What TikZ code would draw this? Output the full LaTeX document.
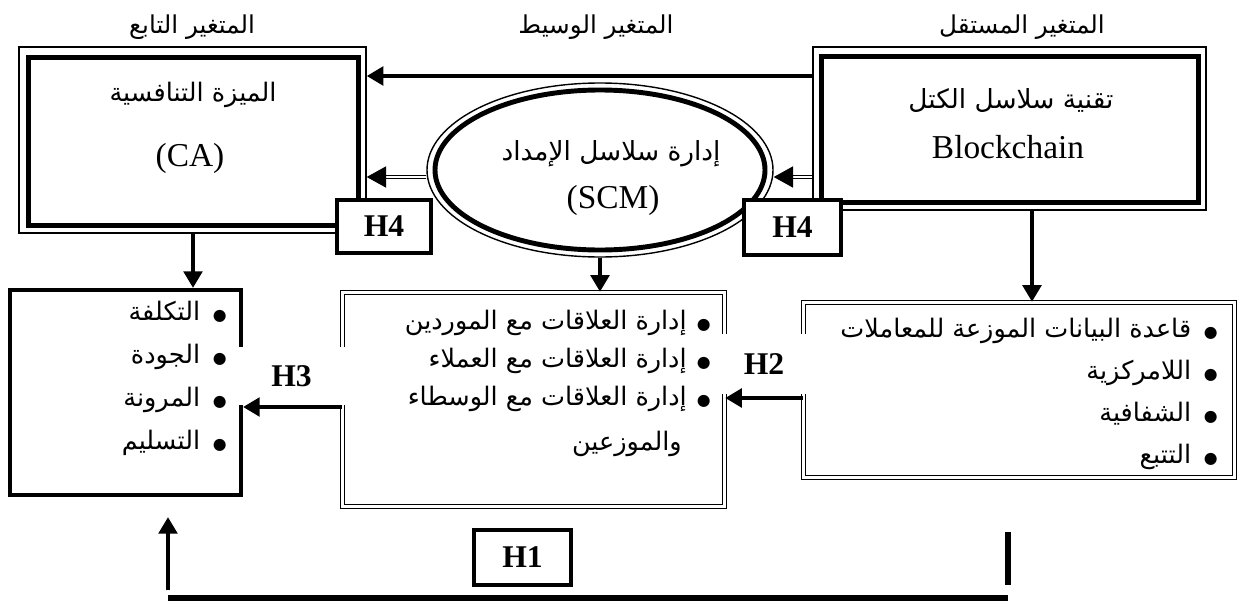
\documentclass[tikz,border=0pt]{standalone}
\usepackage{fontspec}
\setmainfont{Liberation Serif}
\newfontfamily\arabicfont[Script=Arabic]{DejaVu Sans}
\TeXXeTstate=1
\usetikzlibrary{arrows.meta,shapes.geometric}
\newcommand{\pix}{0.02cm}
\newcommand{\dotitem}{{\fontsize{9}{9}\selectfont ●}}
\tikzset{
  outerframe/.style={draw, line width=0.8pt, inner sep=0pt},
  innerframe/.style={line width=2.8pt},
  title/.style={font=\arabicfont\fontsize{14}{16}\selectfont},
  latin/.style={font=\fontsize{19}{22}\selectfont},
  hbox/.style={draw, line width=2.5pt, fill=white, inner sep=0pt,
    font=\bfseries\fontsize{18}{20}\selectfont},
  hlabel/.style={fill=white, inner sep=0pt, font=\bfseries\fontsize{18}{20}\selectfont},
  listbox/.style={draw, line width=2.3pt, inner sep=0pt},
  dlistbox/.style={draw, double, double distance=1.2pt, line width=0.8pt, inner sep=0pt},
  item/.style={font=\arabicfont\fontsize{14.5}{16}\selectfont, inner sep=0pt, anchor=base east},
  arr/.style={line width=2.6pt, -{Triangle[length=9.5pt,width=10.5pt]}},
  darr/.style={double, double distance=1.3pt, line width=0.7pt, -{Triangle[length=11pt,width=12pt]}},
  bar/.style={line width=3.4pt}
}

\begin{document}
\begin{tikzpicture}[x=0.02cm, y=0.02cm]
  \useasboundingbox (0,0) rectangle (1237,-602);
  % headings
  \node[title] (hdCA) at (192,-27) {\beginR المتغير التابع\endR};
  \node[title] (hdSCM) at (596,-27) {\beginR المتغير الوسيط\endR};
  \node[title] (hdBC) at (1022,-27) {\beginR المتغير المستقل\endR};

  % main boxes
  \node[outerframe, minimum width=347*\pix, minimum height=186*\pix] (CA) at (192.5,-140) {};
  \draw[innerframe] ([shift={(10,-11)}]CA.north west) rectangle ([shift={(-8,8)}]CA.south east);
  \node[title, font=\arabicfont\fontsize{14.5}{16}\selectfont] (caT) at (193,-95) {\beginR الميزة التنافسية\endR};
  \node[latin] (caL) at (190,-158) {(CA)};

  \node[outerframe, minimum width=393*\pix, minimum height=163*\pix] (BC) at (1009.5,-128.5) {};
  \draw[innerframe] ([shift={(9,-10)}]BC.north west) rectangle ([shift={(-8,8)}]BC.south east);
  \node[title, font=\arabicfont\fontsize{15}{16}\selectfont] (bcT) at (1011,-100) {\beginR تقنية سلاسل الكتل\endR};
  \node[latin] (bcL) at (1008,-147) {Blockchain};

  \node[outerframe, ellipse, minimum width=346*\pix, minimum height=174*\pix] (SCM) at (600,-170) {};
  \draw[innerframe] (SCM.center) ellipse [x radius=165*\pix, y radius=80*\pix];
  \node[title, font=\arabicfont\fontsize{15}{16}\selectfont] (scmT) at (611,-154) {\beginR إدارة سلاسل الإمداد\endR};
  \node[latin] (scmL) at (613,-200) {(SCM)};

  % lists
  \node[listbox, minimum width=231*\pix, minimum height=205*\pix] (CAlist) at (125.5,-392.5) {};
  \node[dlistbox, minimum width=382*\pix, minimum height=214*\pix] (SCMlist) at (533.5,-399.5) {};
  \node[dlistbox, minimum width=431*\pix, minimum height=175*\pix] (BClist) at (1019,-390) {};

  \foreach \t [count=\i] in {التكلفة, الجودة, المرونة, التسليم}
    \node[item] (ca\i) at (227,{-320-43*(\i-1)}) {\beginR\dotitem\enspace\t\endR};
  \foreach \t [count=\i] in {إدارة العلاقات مع الموردين, إدارة العلاقات مع العملاء, إدارة  العلاقات مع الوسطاء}
    \node[item] (scm\i) at (711,{-329-38*(\i-1)}) {\beginR\dotitem\hspace{0.4em}\t\endR};
  \node[item] (scm4) at (682,-450) {\beginR والموزعين\endR};
  \foreach \t [count=\i] in {قاعدة البيانات الموزعة للمعاملات, اللامركزية, الشفافية, التتبع}
    \node[item] (bc\i) at (1218,{-337-42.3*(\i-1)}) {\beginR\dotitem\enspace\t\endR};

  % hypothesis labels between the lists
  \node[hlabel, minimum width=109*\pix, minimum height=58*\pix] (H3) at (291.5,-376) {H3};
  \node[hlabel, minimum width=86*\pix, minimum height=60*\pix] (H2) at (764,-364) {H2};

  % arrows
  \draw[arr] (BC.west |- 0,-76) -- (CA.east |- 0,-76);
  \draw[darr] (BC.west |- 0,-177) -- (SCM.east |- 0,-177);
  \draw[darr] (SCM.west |- 0,-177) -- (CA.east |- 0,-177);
  \draw[arr] (CA.south -| 193,0) -- (CAlist.north -| 193,0);
  \draw[arr] (SCM.south) -- (SCM.south |- SCMlist.north);
  \draw[arr] (BC.south -| 1032,0) -- (BClist.north -| 1032,0);
  \draw[arr] (SCMlist.west |- 0,-407) -- (CAlist.east |- 0,-407);
  \draw[arr] (BClist.west |- 0,-398) -- (SCMlist.east |- 0,-398);

  \node[hbox, minimum width=94*\pix, minimum height=53*\pix] (H4a) at (384,-226.5) {H4};
  \node[hbox, minimum width=97*\pix, minimum height=55*\pix] (H4b) at (792.5,-227.5) {H4};

  % H1 path along the bottom
  \node[hbox, minimum width=97*\pix, minimum height=55*\pix] (H1) at (522.5,-557.5) {H1};
  \coordinate (h1r) at (1008,-532);
  \coordinate (h1l) at (168,-590);
  \draw[bar] (h1r) -- (h1r |- 0,-585);
  \draw[bar] (h1l |- 0,-598) -- (h1r |- 0,-598);
  \draw[arr] (h1l) -- ([yshift=-20*\pix]h1l |- CAlist.south);
\end{tikzpicture}
\end{document}
